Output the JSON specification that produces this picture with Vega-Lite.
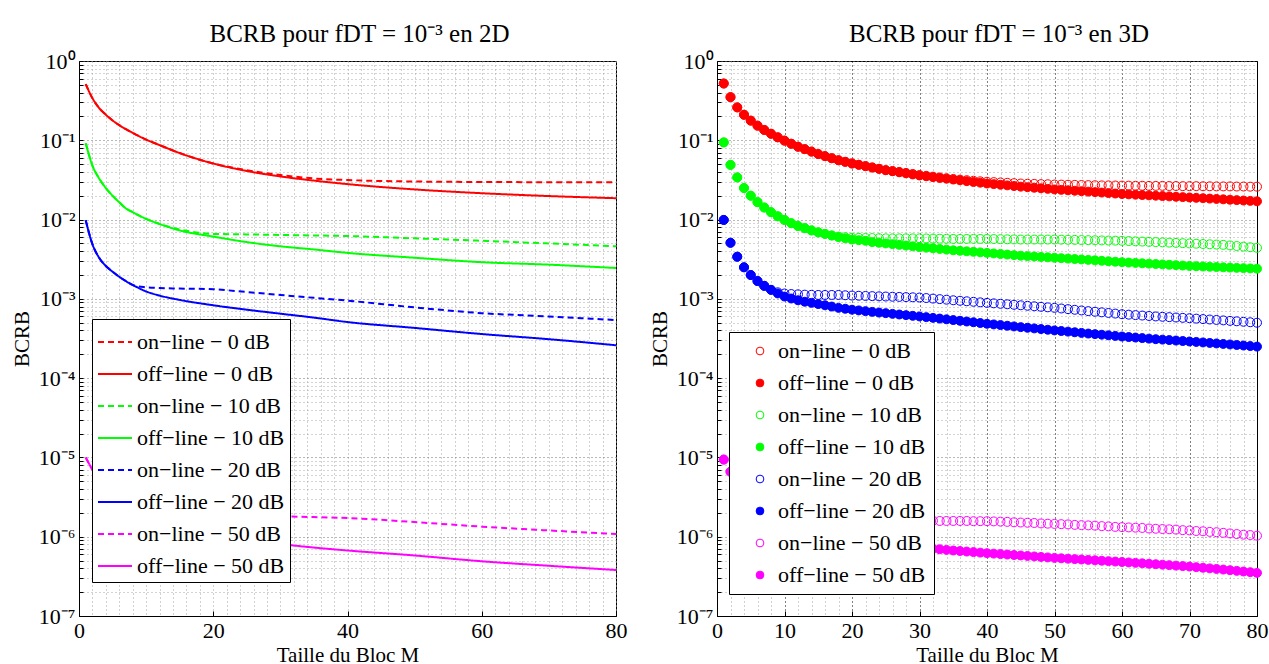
{
  "$schema": "https://vega.github.io/schema/vega-lite/v6.json",
  "background": "white",
  "padding": {"left": 10, "top": 21, "right": 0, "bottom": 0},
  "spacing": 20,
  "resolve": {
    "scale": {"color": "independent", "stroke": "independent", "fill": "independent", "strokeDash": "independent"},
    "legend": {"color": "independent", "stroke": "independent", "fill": "independent", "strokeDash": "independent"}
  },
  "config": {
    "font": "Liberation Serif",
    "view": {"stroke": "black", "strokeWidth": 1},
    "axis": {"labelFont": "Liberation Serif", "labelFontSize": 22, "labelColor": "black", "titleFont": "Liberation Serif", "titleFontSize": 21, "titleFontWeight": "normal", "titleColor": "black", "domainColor": "black", "tickColor": "black", "gridOpacity": 1},
    "title": {"font": "Liberation Serif", "fontSize": 25, "fontWeight": "normal", "color": "black", "offset": 3, "dx": 12},
    "legend": {"labelFont": "Liberation Serif", "labelFontSize": 22, "labelColor": "black", "labelLimit": 400, "rowPadding": 10, "padding": 8, "strokeColor": "black", "fillColor": "white", "zindex": 1}
  },
  "datasets": {
    "d2": [
      {"M":1,"on0":0.51,"off0":0.51,"on10":0.092,"off10":0.092,"on20":0.0098,"off20":0.0098,"on50":1e-5,"off50":1e-5},
      {"M":2,"on0":0.34,"off0":0.34,"on10":0.048,"off10":0.048,"on20":0.0049,"off20":0.0049,"on50":7e-6,"off50":7e-6},
      {"M":3,"on0":0.255,"off0":0.255,"on10":0.033,"off10":0.033,"on20":0.0033,"off20":0.0033,"on50":5.2e-6,"off50":5.2e-6},
      {"M":4,"on0":0.21,"off0":0.21,"on10":0.025,"off10":0.025,"on20":0.0026,"off20":0.0026,"on50":4.2e-6,"off50":4.2e-6},
      {"M":5,"on0":0.178,"off0":0.178,"on10":0.02,"off10":0.02,"on20":0.0022,"off20":0.0022,"on50":3.5e-6,"off50":3.5e-6},
      {"M":6,"on0":0.155,"off0":0.155,"on10":0.0165,"off10":0.0165,"on20":0.0019,"off20":0.0019,"on50":3e-6,"off50":3e-6},
      {"M":7,"on0":0.138,"off0":0.138,"on10":0.0138,"off10":0.0138,"on20":0.00167,"off20":0.00167,"on50":2.6e-6,"off50":2.6e-6},
      {"M":8,"on0":0.124,"off0":0.124,"on10":0.0124,"off10":0.0124,"on20":0.00149,"off20":0.0015,"on50":2.3e-6,"off50":2.3e-6},
      {"M":10,"on0":0.102,"off0":0.102,"on10":0.0102,"off10":0.0102,"on20":0.0014,"off20":0.00124,"on50":2.0e-6,"off50":1.85e-6},
      {"M":12,"on0":0.087,"off0":0.087,"on10":0.0088,"off10":0.0088,"on20":0.00137,"off20":0.0011,"on50":1.9e-6,"off50":1.6e-6},
      {"M":15,"on0":0.069,"off0":0.069,"on10":0.0075,"off10":0.0073,"on20":0.00135,"off20":0.00097,"on50":1.85e-6,"off50":1.35e-6},
      {"M":20,"on0":0.051,"off0":0.051,"on10":0.0066,"off10":0.0061,"on20":0.00132,"off20":0.00083,"on50":1.82e-6,"off50":1.1e-6},
      {"M":25,"on0":0.042,"off0":0.041,"on10":0.0065,"off10":0.0052,"on20":0.00122,"off20":0.00073,"on50":1.81e-6,"off50":9.3e-7},
      {"M":30,"on0":0.0365,"off0":0.035,"on10":0.0064,"off10":0.0046,"on20":0.00112,"off20":0.00065,"on50":1.8e-6,"off50":8.1e-7},
      {"M":35,"on0":0.033,"off0":0.031,"on10":0.0063,"off10":0.0042,"on20":0.00103,"off20":0.00058,"on50":1.77e-6,"off50":7.3e-7},
      {"M":40,"on0":0.0315,"off0":0.028,"on10":0.0062,"off10":0.0038,"on20":0.00095,"off20":0.00051,"on50":1.72e-6,"off50":6.7e-7},
      {"M":50,"on0":0.0302,"off0":0.024,"on10":0.0058,"off10":0.0033,"on20":0.00078,"off20":0.00043,"on50":1.53e-6,"off50":5.8e-7},
      {"M":60,"on0":0.0298,"off0":0.0215,"on10":0.0054,"off10":0.0029,"on20":0.00066,"off20":0.00036,"on50":1.34e-6,"off50":4.9e-7},
      {"M":70,"on0":0.0296,"off0":0.0198,"on10":0.005,"off10":0.0027,"on20":0.0006,"off20":0.00031,"on50":1.2e-6,"off50":4.3e-7},
      {"M":80,"on0":0.0295,"off0":0.0186,"on10":0.0046,"off10":0.00245,"on20":0.00054,"off20":0.00026,"on50":1.08e-6,"off50":3.8e-7}
    ],
    "d3": [
      {"M":1,"on0":0.52,"off0":0.52,"on10":0.094,"off10":0.094,"on20":0.0099,"off20":0.0099,"on50":9.4e-6,"off50":9.4e-6},
      {"M":2,"on0":0.35,"off0":0.35,"on10":0.049,"off10":0.049,"on20":0.0051,"off20":0.0051,"on50":6.6e-6,"off50":6.6e-6},
      {"M":3,"on0":0.26,"off0":0.26,"on10":0.034,"off10":0.034,"on20":0.0034,"off20":0.0034,"on50":5.0e-6,"off50":5.0e-6},
      {"M":4,"on0":0.21,"off0":0.21,"on10":0.025,"off10":0.025,"on20":0.0025,"off20":0.0025,"on50":4.0e-6,"off50":4.0e-6},
      {"M":5,"on0":0.177,"off0":0.177,"on10":0.02,"off10":0.02,"on20":0.002,"off20":0.002,"on50":3.3e-6,"off50":3.3e-6},
      {"M":6,"on0":0.153,"off0":0.153,"on10":0.0166,"off10":0.0166,"on20":0.00168,"off20":0.00168,"on50":2.8e-6,"off50":2.8e-6},
      {"M":7,"on0":0.135,"off0":0.135,"on10":0.0142,"off10":0.0142,"on20":0.00146,"off20":0.00146,"on50":2.4e-6,"off50":2.4e-6},
      {"M":8,"on0":0.121,"off0":0.121,"on10":0.0124,"off10":0.0124,"on20":0.0013,"off20":0.0013,"on50":2.1e-6,"off50":2.1e-6},
      {"M":9,"on0":0.109,"off0":0.109,"on10":0.011,"off10":0.011,"on20":0.00121,"off20":0.00117,"on50":1.9e-6,"off50":1.9e-6},
      {"M":10,"on0":0.099,"off0":0.099,"on10":0.0099,"off10":0.0099,"on20":0.00117,"off20":0.00107,"on50":1.7e-6,"off50":1.7e-6},
      {"M":11,"on0":0.0905,"off0":0.0905,"on10":0.009,"off10":0.009,"on20":0.00115,"off20":0.00101,"on50":1.67e-6,"off50":1.57e-6},
      {"M":12,"on0":0.083,"off0":0.083,"on10":0.0083,"off10":0.0083,"on20":0.00114,"off20":0.00096,"on50":1.66e-6,"off50":1.45e-6},
      {"M":13,"on0":0.0773,"off0":0.0773,"on10":0.0078,"off10":0.0078,"on20":0.00113,"off20":0.00092,"on50":1.65e-6,"off50":1.36e-6},
      {"M":14,"on0":0.072,"off0":0.072,"on10":0.0073,"off10":0.0073,"on20":0.001125,"off20":0.00089,"on50":1.64e-6,"off50":1.28e-6},
      {"M":15,"on0":0.067,"off0":0.067,"on10":0.0069,"off10":0.0069,"on20":0.00112,"off20":0.00086,"on50":1.63e-6,"off50":1.2e-6},
      {"M":16,"on0":0.0631,"off0":0.0631,"on10":0.0066,"off10":0.0066,"on20":0.00112,"off20":0.00083,"on50":1.63e-6,"off50":1.15e-6},
      {"M":17,"on0":0.0594,"off0":0.0594,"on10":0.0063,"off10":0.0063,"on20":0.00112,"off20":0.0008,"on50":1.62e-6,"off50":1.1e-6},
      {"M":18,"on0":0.056,"off0":0.056,"on10":0.0061,"off10":0.006,"on20":0.00112,"off20":0.00077,"on50":1.62e-6,"off50":1.05e-6},
      {"M":19,"on0":0.0535,"off0":0.0535,"on10":0.006,"off10":0.0058,"on20":0.00111,"off20":0.00075,"on50":1.61e-6,"off50":1.01e-6},
      {"M":20,"on0":0.051,"off0":0.051,"on10":0.0059,"off10":0.0056,"on20":0.0011,"off20":0.00073,"on50":1.61e-6,"off50":9.8e-7},
      {"M":21,"on0":0.0491,"off0":0.0491,"on10":0.00588,"off10":0.0055,"on20":0.001094,"off20":0.000715,"on50":1.61e-6,"off50":9.5e-7},
      {"M":22,"on0":0.0472,"off0":0.0472,"on10":0.00586,"off10":0.0054,"on20":0.001088,"off20":0.0007,"on50":1.6e-6,"off50":9.2e-7},
      {"M":23,"on0":0.0454,"off0":0.0454,"on10":0.00584,"off10":0.0052,"on20":0.001082,"off20":0.000685,"on50":1.6e-6,"off50":8.9e-7},
      {"M":24,"on0":0.0437,"off0":0.0437,"on10":0.00582,"off10":0.0051,"on20":0.001076,"off20":0.000672,"on50":1.6e-6,"off50":8.6e-7},
      {"M":25,"on0":0.042,"off0":0.042,"on10":0.0058,"off10":0.005,"on20":0.00107,"off20":0.00066,"on50":1.6e-6,"off50":8.3e-7},
      {"M":26,"on0":0.041,"off0":0.0407,"on10":0.0058,"off10":0.0049,"on20":0.001064,"off20":0.000647,"on50":1.6e-6,"off50":8.1e-7},
      {"M":27,"on0":0.0399,"off0":0.0395,"on10":0.0058,"off10":0.0048,"on20":0.001058,"off20":0.000635,"on50":1.6e-6,"off50":7.9e-7},
      {"M":28,"on0":0.0388,"off0":0.0383,"on10":0.0058,"off10":0.0047,"on20":0.001052,"off20":0.000623,"on50":1.59e-6,"off50":7.7e-7},
      {"M":29,"on0":0.0376,"off0":0.0371,"on10":0.0058,"off10":0.0046,"on20":0.001046,"off20":0.000611,"on50":1.59e-6,"off50":7.5e-7},
      {"M":30,"on0":0.0365,"off0":0.036,"on10":0.0058,"off10":0.0045,"on20":0.00104,"off20":0.0006,"on50":1.59e-6,"off50":7.3e-7},
      {"M":31,"on0":0.0356,"off0":0.0352,"on10":0.00578,"off10":0.00442,"on20":0.001024,"off20":0.000588,"on50":1.59e-6,"off50":7.18e-7},
      {"M":32,"on0":0.0348,"off0":0.0343,"on10":0.00576,"off10":0.00434,"on20":0.001008,"off20":0.000576,"on50":1.59e-6,"off50":7.06e-7},
      {"M":33,"on0":0.034,"off0":0.0335,"on10":0.00574,"off10":0.00426,"on20":0.000992,"off20":0.000564,"on50":1.58e-6,"off50":6.94e-7},
      {"M":34,"on0":0.0332,"off0":0.0328,"on10":0.00572,"off10":0.00418,"on20":0.000976,"off20":0.000552,"on50":1.58e-6,"off50":6.82e-7},
      {"M":35,"on0":0.0325,"off0":0.032,"on10":0.0057,"off10":0.0041,"on20":0.00096,"off20":0.00054,"on50":1.58e-6,"off50":6.7e-7},
      {"M":36,"on0":0.0319,"off0":0.0313,"on10":0.0057,"off10":0.00404,"on20":0.000946,"off20":0.000529,"on50":1.58e-6,"off50":6.6e-7},
      {"M":37,"on0":0.0314,"off0":0.0305,"on10":0.0057,"off10":0.00398,"on20":0.000932,"off20":0.000518,"on50":1.58e-6,"off50":6.5e-7},
      {"M":38,"on0":0.0309,"off0":0.0298,"on10":0.0057,"off10":0.00392,"on20":0.000918,"off20":0.000507,"on50":1.57e-6,"off50":6.4e-7},
      {"M":39,"on0":0.0304,"off0":0.0292,"on10":0.0057,"off10":0.00386,"on20":0.000904,"off20":0.000496,"on50":1.57e-6,"off50":6.3e-7},
      {"M":40,"on0":0.03,"off0":0.0285,"on10":0.0057,"off10":0.0038,"on20":0.00089,"off20":0.000485,"on50":1.57e-6,"off50":6.2e-7},
      {"M":41,"on0":0.0297,"off0":0.028,"on10":0.00568,"off10":0.00374,"on20":0.000878,"off20":0.000476,"on50":1.56e-6,"off50":6.12e-7},
      {"M":42,"on0":0.0294,"off0":0.0275,"on10":0.00566,"off10":0.00368,"on20":0.000866,"off20":0.000467,"on50":1.55e-6,"off50":6.04e-7},
      {"M":43,"on0":0.0291,"off0":0.027,"on10":0.00564,"off10":0.00362,"on20":0.000854,"off20":0.000458,"on50":1.54e-6,"off50":5.96e-7},
      {"M":44,"on0":0.0288,"off0":0.0265,"on10":0.00562,"off10":0.00356,"on20":0.000842,"off20":0.000449,"on50":1.52e-6,"off50":5.88e-7},
      {"M":45,"on0":0.0285,"off0":0.026,"on10":0.0056,"off10":0.0035,"on20":0.00083,"off20":0.00044,"on50":1.51e-6,"off50":5.8e-7},
      {"M":46,"on0":0.0283,"off0":0.0256,"on10":0.0056,"off10":0.00346,"on20":0.000818,"off20":0.000432,"on50":1.5e-6,"off50":5.72e-7},
      {"M":47,"on0":0.0282,"off0":0.0252,"on10":0.0056,"off10":0.00342,"on20":0.000806,"off20":0.000424,"on50":1.49e-6,"off50":5.64e-7},
      {"M":48,"on0":0.028,"off0":0.0248,"on10":0.0056,"off10":0.00338,"on20":0.000794,"off20":0.000416,"on50":1.47e-6,"off50":5.56e-7},
      {"M":49,"on0":0.0279,"off0":0.0244,"on10":0.0056,"off10":0.00334,"on20":0.000782,"off20":0.000408,"on50":1.46e-6,"off50":5.48e-7},
      {"M":50,"on0":0.0277,"off0":0.024,"on10":0.0056,"off10":0.0033,"on20":0.00077,"off20":0.0004,"on50":1.45e-6,"off50":5.4e-7},
      {"M":51,"on0":0.0276,"off0":0.0237,"on10":0.00558,"off10":0.00326,"on20":0.000756,"off20":0.000393,"on50":1.44e-6,"off50":5.34e-7},
      {"M":52,"on0":0.0275,"off0":0.0234,"on10":0.00556,"off10":0.00322,"on20":0.000742,"off20":0.000386,"on50":1.43e-6,"off50":5.28e-7},
      {"M":53,"on0":0.0274,"off0":0.0231,"on10":0.00554,"off10":0.00318,"on20":0.000728,"off20":0.000379,"on50":1.41e-6,"off50":5.22e-7},
      {"M":54,"on0":0.0273,"off0":0.0228,"on10":0.00552,"off10":0.00314,"on20":0.000714,"off20":0.000372,"on50":1.4e-6,"off50":5.16e-7},
      {"M":55,"on0":0.0272,"off0":0.0225,"on10":0.0055,"off10":0.0031,"on20":0.0007,"off20":0.000365,"on50":1.39e-6,"off50":5.1e-7},
      {"M":56,"on0":0.0271,"off0":0.0222,"on10":0.00548,"off10":0.00306,"on20":0.000688,"off20":0.000359,"on50":1.38e-6,"off50":5.04e-7},
      {"M":57,"on0":0.027,"off0":0.0219,"on10":0.00546,"off10":0.00302,"on20":0.000676,"off20":0.000353,"on50":1.36e-6,"off50":4.98e-7},
      {"M":58,"on0":0.027,"off0":0.0216,"on10":0.00544,"off10":0.00298,"on20":0.000664,"off20":0.000347,"on50":1.35e-6,"off50":4.92e-7},
      {"M":59,"on0":0.0269,"off0":0.0213,"on10":0.00542,"off10":0.00294,"on20":0.000652,"off20":0.000341,"on50":1.33e-6,"off50":4.86e-7},
      {"M":60,"on0":0.0268,"off0":0.021,"on10":0.0054,"off10":0.0029,"on20":0.00064,"off20":0.000335,"on50":1.32e-6,"off50":4.8e-7},
      {"M":61,"on0":0.0268,"off0":0.0208,"on10":0.00536,"off10":0.00287,"on20":0.000632,"off20":0.00033,"on50":1.31e-6,"off50":4.74e-7},
      {"M":62,"on0":0.0267,"off0":0.0206,"on10":0.00532,"off10":0.00284,"on20":0.000624,"off20":0.000325,"on50":1.3e-6,"off50":4.68e-7},
      {"M":63,"on0":0.0267,"off0":0.0204,"on10":0.00528,"off10":0.00281,"on20":0.000616,"off20":0.00032,"on50":1.29e-6,"off50":4.62e-7},
      {"M":64,"on0":0.0266,"off0":0.0202,"on10":0.00524,"off10":0.00278,"on20":0.000608,"off20":0.000315,"on50":1.27e-6,"off50":4.56e-7},
      {"M":65,"on0":0.0266,"off0":0.02,"on10":0.0052,"off10":0.00275,"on20":0.0006,"off20":0.00031,"on50":1.26e-6,"off50":4.5e-7},
      {"M":66,"on0":0.0266,"off0":0.0198,"on10":0.00516,"off10":0.00272,"on20":0.000594,"off20":0.000306,"on50":1.25e-6,"off50":4.44e-7},
      {"M":67,"on0":0.0265,"off0":0.0196,"on10":0.00512,"off10":0.00269,"on20":0.000588,"off20":0.000302,"on50":1.24e-6,"off50":4.38e-7},
      {"M":68,"on0":0.0265,"off0":0.0194,"on10":0.00508,"off10":0.00266,"on20":0.000582,"off20":0.000298,"on50":1.23e-6,"off50":4.32e-7},
      {"M":69,"on0":0.0264,"off0":0.0192,"on10":0.00504,"off10":0.00263,"on20":0.000576,"off20":0.000294,"on50":1.21e-6,"off50":4.26e-7},
      {"M":70,"on0":0.0264,"off0":0.019,"on10":0.005,"off10":0.0026,"on20":0.00057,"off20":0.00029,"on50":1.2e-6,"off50":4.2e-7},
      {"M":71,"on0":0.0264,"off0":0.0188,"on10":0.00496,"off10":0.00258,"on20":0.000563,"off20":0.000286,"on50":1.18e-6,"off50":4.13e-7},
      {"M":72,"on0":0.0263,"off0":0.0186,"on10":0.00492,"off10":0.00256,"on20":0.000556,"off20":0.000282,"on50":1.17e-6,"off50":4.06e-7},
      {"M":73,"on0":0.0263,"off0":0.0184,"on10":0.00488,"off10":0.00254,"on20":0.000549,"off20":0.000278,"on50":1.15e-6,"off50":3.99e-7},
      {"M":74,"on0":0.0262,"off0":0.0182,"on10":0.00484,"off10":0.00252,"on20":0.000542,"off20":0.000274,"on50":1.14e-6,"off50":3.92e-7},
      {"M":75,"on0":0.0262,"off0":0.018,"on10":0.0048,"off10":0.0025,"on20":0.000535,"off20":0.00027,"on50":1.12e-6,"off50":3.85e-7},
      {"M":76,"on0":0.0262,"off0":0.0178,"on10":0.00472,"off10":0.00248,"on20":0.000528,"off20":0.000266,"on50":1.1e-6,"off50":3.78e-7},
      {"M":77,"on0":0.0261,"off0":0.0176,"on10":0.00464,"off10":0.00246,"on20":0.000521,"off20":0.000262,"on50":1.08e-6,"off50":3.71e-7},
      {"M":78,"on0":0.0261,"off0":0.0174,"on10":0.00456,"off10":0.00244,"on20":0.000514,"off20":0.000258,"on50":1.06e-6,"off50":3.64e-7},
      {"M":79,"on0":0.026,"off0":0.0172,"on10":0.00448,"off10":0.00242,"on20":0.000507,"off20":0.000254,"on50":1.05e-6,"off50":3.57e-7},
      {"M":80,"on0":0.026,"off0":0.017,"on10":0.0044,"off10":0.0024,"on20":0.0005,"off20":0.00025,"on50":1.03e-6,"off50":3.5e-7}
    ]
  },
  "hconcat": [
    {
      "width": 537,
      "height": 555,
      "title": {"text": "BCRB pour fDT = 10⁻³ en 2D"},
      "data": {"name": "d2"},
      "transform": [{"fold": ["on0","off0","on10","off10","on20","off20","on50","off50"], "as": ["serie","v"]}],
      "mark": {"type": "line", "strokeWidth": 2, "interpolate": "monotone"},
      "encoding": {
        "x": {"field": "M", "type": "quantitative", "scale": {"domain": [0, 80], "nice": false},
          "axis": {"title": "Taille du Bloc M", "values": [0,2,4,6,8,10,12,14,16,18,20,22,24,26,28,30,32,34,36,38,40,42,44,46,48,50,52,54,56,58,60,62,64,66,68,70,72,74,76,78,80],
            "labelExpr": "datum.value % 20 === 0 ? datum.label : ''", "labelOverlap": false, "labelFlush": false,
            "grid": true, "gridColor": "#a0a0a0", "gridDash": [1, 3],
            "ticks": true, "tickSize": -5, "tickOpacity": {"condition": {"test": "datum.value % 20 === 0", "value": 1}, "value": 0},
            "labelPadding": 9, "titlePadding": 3}},
        "y": {"field": "v", "type": "quantitative", "scale": {"type": "log", "domain": [1e-7, 1], "nice": false},
          "axis": {"title": "BCRB", "values": [1e-7,2e-7,3e-7,4e-7,5e-7,6e-7,7e-7,8e-7,9e-7,1e-6,2e-6,3e-6,4e-6,5e-6,6e-6,7e-6,8e-6,9e-6,1e-5,2e-5,3e-5,4e-5,5e-5,6e-5,7e-5,8e-5,9e-5,1e-4,2e-4,3e-4,4e-4,5e-4,6e-4,7e-4,8e-4,9e-4,0.001,0.002,0.003,0.004,0.005,0.006,0.007,0.008,0.009,0.01,0.02,0.03,0.04,0.05,0.06,0.07,0.08,0.09,0.1,0.2,0.3,0.4,0.5,0.6,0.7,0.8,0.9,1],
            "labelExpr": "abs(log(datum.value)/LN10 - round(log(datum.value)/LN10)) < 0.001 ? ['10⁰','10⁻¹','10⁻²','10⁻³','10⁻⁴','10⁻⁵','10⁻⁶','10⁻⁷'][round(-log(datum.value)/LN10)] : ''",
            "labelOverlap": false, "labelFlush": false,
            "grid": true, "gridDash": [1, 3],
            "gridColor": {"condition": {"test": "abs(log(datum.value)/LN10 - round(log(datum.value)/LN10)) < 0.001", "value": "#707070"}, "value": "#a8a8a8"},
            "ticks": true, "tickSize": -4, "labelPadding": 8, "titlePadding": 6}},
        "color": {"field": "serie", "type": "nominal",
          "scale": {"domain": ["on0","off0","on10","off10","on20","off20","on50","off50"], "range": ["#ff0000","#ff0000","#00ff00","#00ff00","#0000ff","#0000ff","#ff00ff","#ff00ff"]},
          "legend": {"title": null, "orient": "none", "legendX": 13, "legendY": 258, "symbolType": "stroke", "symbolSize": 1156, "symbolStrokeWidth": 2, "labelOffset": 4, "rowPadding": 3, "padding": 5,
            "labelExpr": "['on−line − 0 dB','off−line − 0 dB','on−line − 10 dB','off−line − 10 dB','on−line − 20 dB','off−line − 20 dB','on−line − 50 dB','off−line − 50 dB'][indexof(['on0','off0','on10','off10','on20','off20','on50','off50'], datum.label)]"}},
        "strokeDash": {"field": "serie", "type": "nominal",
          "scale": {"domain": ["on0","off0","on10","off10","on20","off20","on50","off50"], "range": [[6,4],[1,0],[6,4],[1,0],[6,4],[1,0],[6,4],[1,0]]},
          "legend": {"title": null, "orient": "none", "legendX": 13, "legendY": 258, "symbolType": "stroke", "symbolSize": 1156, "symbolStrokeWidth": 2, "labelOffset": 4, "rowPadding": 3, "padding": 5,
            "labelExpr": "['on−line − 0 dB','off−line − 0 dB','on−line − 10 dB','off−line − 10 dB','on−line − 20 dB','off−line − 20 dB','on−line − 50 dB','off−line − 50 dB'][indexof(['on0','off0','on10','off10','on20','off20','on50','off50'], datum.label)]"}}
      }
    },
    {
      "width": 540,
      "height": 555,
      "title": {"text": "BCRB pour fDT = 10⁻³ en 3D"},
      "data": {"name": "d3"},
      "transform": [{"fold": ["on0","off0","on10","off10","on20","off20","on50","off50"], "as": ["serie3","v"]}],
      "mark": {"type": "point", "shape": "circle", "size": 80, "strokeWidth": 1, "opacity": 1},
      "encoding": {
        "x": {"field": "M", "type": "quantitative", "scale": {"domain": [0, 80], "nice": false},
          "axis": {"title": "Taille du Bloc M", "values": [0,2,4,6,8,10,12,14,16,18,20,22,24,26,28,30,32,34,36,38,40,42,44,46,48,50,52,54,56,58,60,62,64,66,68,70,72,74,76,78,80],
            "labelExpr": "datum.value % 10 === 0 ? datum.label : ''", "labelOverlap": false, "labelFlush": false,
            "grid": true, "gridDash": [1, 3],
            "gridColor": {"condition": {"test": "datum.value % 10 === 0", "value": "#000000"}, "value": "#a0a0a0"},
            "ticks": true, "tickSize": -5, "tickOpacity": {"condition": {"test": "datum.value % 10 === 0", "value": 1}, "value": 0},
            "labelPadding": 9, "titlePadding": 3}},
        "y": {"field": "v", "type": "quantitative", "scale": {"type": "log", "domain": [1e-7, 1], "nice": false},
          "axis": {"title": "BCRB", "values": [1e-7,2e-7,3e-7,4e-7,5e-7,6e-7,7e-7,8e-7,9e-7,1e-6,2e-6,3e-6,4e-6,5e-6,6e-6,7e-6,8e-6,9e-6,1e-5,2e-5,3e-5,4e-5,5e-5,6e-5,7e-5,8e-5,9e-5,1e-4,2e-4,3e-4,4e-4,5e-4,6e-4,7e-4,8e-4,9e-4,0.001,0.002,0.003,0.004,0.005,0.006,0.007,0.008,0.009,0.01,0.02,0.03,0.04,0.05,0.06,0.07,0.08,0.09,0.1,0.2,0.3,0.4,0.5,0.6,0.7,0.8,0.9,1],
            "labelExpr": "abs(log(datum.value)/LN10 - round(log(datum.value)/LN10)) < 0.001 ? ['10⁰','10⁻¹','10⁻²','10⁻³','10⁻⁴','10⁻⁵','10⁻⁶','10⁻⁷'][round(-log(datum.value)/LN10)] : ''",
            "labelOverlap": false, "labelFlush": false,
            "grid": true, "gridDash": [1, 3],
            "gridColor": {"condition": {"test": "abs(log(datum.value)/LN10 - round(log(datum.value)/LN10)) < 0.001", "value": "#707070"}, "value": "#a8a8a8"},
            "ticks": true, "tickSize": -4, "labelPadding": 8, "titlePadding": 6}},
        "order": {"field": "serie3", "sort": "descending"},
        "stroke": {"field": "serie3", "type": "nominal",
          "scale": {"domain": ["on0","off0","on10","off10","on20","off20","on50","off50"], "range": ["#ff0000","#ff0000","#00ff00","#00ff00","#0000ff","#0000ff","#ff00ff","#ff00ff"]},
          "legend": {"title": null, "orient": "none", "legendX": 12, "legendY": 271, "symbolType": "circle", "symbolSize": 60, "symbolStrokeWidth": 1, "symbolOffset": 12, "labelOffset": 7,
            "labelExpr": "['on−line − 0 dB','off−line − 0 dB','on−line − 10 dB','off−line − 10 dB','on−line − 20 dB','off−line − 20 dB','on−line − 50 dB','off−line − 50 dB'][indexof(['on0','off0','on10','off10','on20','off20','on50','off50'], datum.label)]"}},
        "fill": {"field": "serie3", "type": "nominal",
          "scale": {"domain": ["on0","off0","on10","off10","on20","off20","on50","off50"], "range": ["transparent","#ff0000","transparent","#00ff00","transparent","#0000ff","transparent","#ff00ff"]},
          "legend": {"title": null, "orient": "none", "legendX": 12, "legendY": 271, "symbolType": "circle", "symbolSize": 60, "symbolStrokeWidth": 1, "symbolOffset": 12, "labelOffset": 7,
            "labelExpr": "['on−line − 0 dB','off−line − 0 dB','on−line − 10 dB','off−line − 10 dB','on−line − 20 dB','off−line − 20 dB','on−line − 50 dB','off−line − 50 dB'][indexof(['on0','off0','on10','off10','on20','off20','on50','off50'], datum.label)]"}}
      }
    }
  ]
}
